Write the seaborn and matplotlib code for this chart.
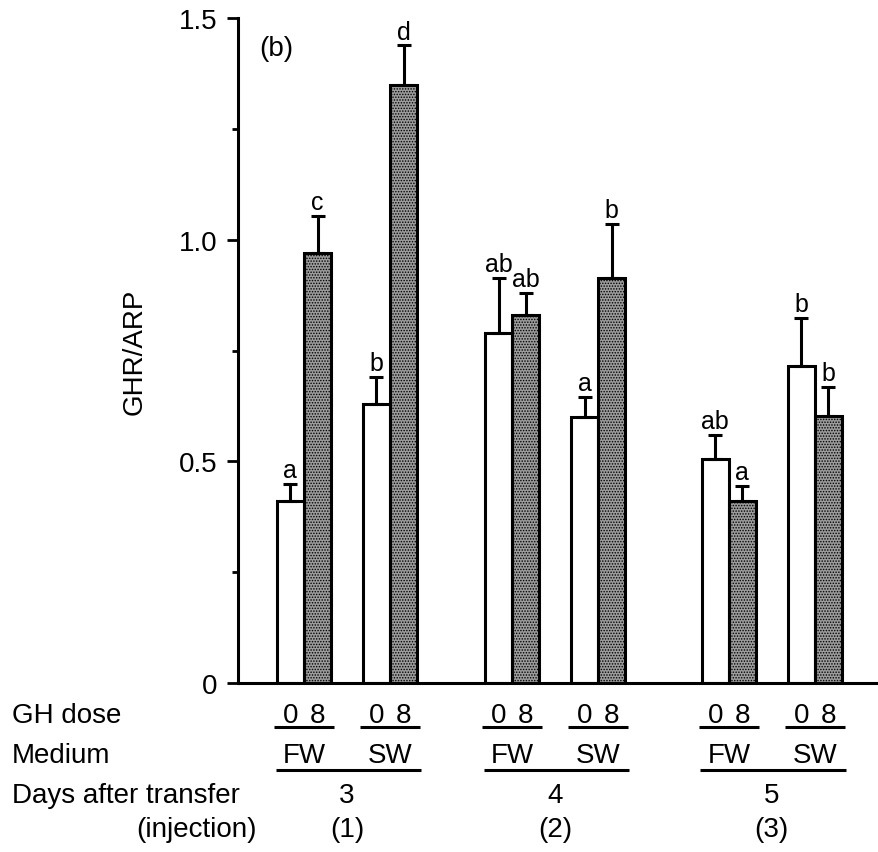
import numpy as np
import pandas as pd
import matplotlib
matplotlib.use("Agg")
import matplotlib.pyplot as plt
import matplotlib.transforms as mtrans
import seaborn as sns

# data
days = ["3", "3", "4", "4", "5", "5"]
injection = ["(1)", "(1)", "(2)", "(2)", "(3)", "(3)"]
medium = ["FW", "SW", "FW", "SW", "FW", "SW"]
dose_levels = ["0", "8"]
mean_dose0 = [0.41, 0.63, 0.79, 0.60, 0.506, 0.716]
mean_dose8 = [0.971, 1.35, 0.831, 0.914, 0.411, 0.603]
se_dose0 = [0.04, 0.06, 0.124, 0.045, 0.054, 0.108]
se_dose8 = [0.083, 0.088, 0.049, 0.122, 0.034, 0.065]
letters_dose0 = ["a", "b", "ab", "a", "ab", "b"]
letters_dose8 = ["c", "d", "ab", "b", "a", "b"]

# layout: x slot of each day/medium pair (uneven gaps as in the original)
pair_pos = [0, 1, 2.42, 3.42, 4.94, 5.94]

sns.set_style("ticks")
plt.rcParams["font.family"] = ["Liberation Sans", "DejaVu Sans"]
plt.rcParams["hatch.linewidth"] = 0.7
for k in ["text.color", "axes.labelcolor", "axes.edgecolor",
          "xtick.color", "ytick.color"]:
    plt.rcParams[k] = "black"

df = pd.DataFrame({
    "pos": pair_pos * 2,
    "dose": [dose_levels[0]] * 6 + [dose_levels[1]] * 6,
    "ghr": mean_dose0 + mean_dose8,
})

fig = plt.figure(figsize=(8.79, 8.53), dpi=100)
ax = fig.add_axes([238 / 879, 1 - 684 / 853, 641 / 879, 665 / 853])

sns.barplot(data=df, x="pos", y="ghr", hue="dose", hue_order=dose_levels,
            native_scale=True, width=0.63, errorbar=None, legend=False,
            palette={"0": "white", "8": "#9c9c9c"},
            edgecolor="black", linewidth=2.2, ax=ax)

# error bars (upper only) + significance letters
centers = {}
for lvl, cont, se, lets in zip(dose_levels, ax.containers,
                               [se_dose0, se_dose8],
                               [letters_dose0, letters_dose8]):
    bars = sorted(cont.patches, key=lambda p: p.get_x())
    xs = [b.get_x() + b.get_width() / 2 for b in bars]
    hs = [b.get_height() for b in bars]
    centers[lvl] = xs
    if lvl == "8":
        for b in bars:
            b.set_hatch("......")
    ax.errorbar(xs, hs, yerr=[np.zeros(len(se)), se], fmt="none",
                ecolor="black", elinewidth=2.2, capsize=4.7, capthick=2.2,
                zorder=1)
    for x, h, s, t in zip(xs, hs, se, lets):
        ax.annotate(t, (x, h + s), xytext=(0, 5), textcoords="offset points",
                    ha="center", va="baseline", fontsize=18)

ax.set_xlim(-0.767, 6.686)
ax.set_ylim(0, 1.5)
ax.set_yticks([0, 0.5, 1.0, 1.5])
ax.set_yticklabels(["0", "0.5", "1.0", "1.5"])
ax.set_yticks([0.25, 0.75, 1.25], minor=True)
ax.set_xticks([])
ax.tick_params(axis="y", which="major", length=8, width=2, labelsize=20, pad=7)
ax.tick_params(axis="y", which="minor", length=4.5, width=2)
sns.despine(ax=ax)
for sp in ["left", "bottom"]:
    ax.spines[sp].set_linewidth(2.2)
ax.set_xlabel("")
ax.set_ylabel("GHR/ARP", fontsize=20, va="center")
ax.yaxis.set_label_coords(-0.161, 0.5)

ax.text(0.06, 0.955, "(b)", transform=ax.transAxes, fontsize=20,
        ha="center", va="center")

# category table under the axis
tr = mtrans.blended_transform_factory(ax.transData, fig.transFigure)
def fy(px):
    return 1 - px / 853

fs = 20
fig.text(12 / 879, fy(723), "GH dose", fontsize=fs, va="baseline")
fig.text(12 / 879, fy(763), "Medium", fontsize=fs, va="baseline")
fig.text(12 / 879, fy(803), "Days after transfer", fontsize=fs, va="baseline")
fig.text(257 / 879, fy(837), "(injection)", fontsize=fs, va="baseline", ha="right")

for i, p in enumerate(pair_pos):
    ax.text(centers["0"][i], fy(723), "0", transform=tr, fontsize=fs,
            ha="center", va="baseline")
    ax.text(centers["8"][i], fy(723), "8", transform=tr, fontsize=fs,
            ha="center", va="baseline")
    ax.plot([p - 0.35, p + 0.35], [fy(728), fy(728)], transform=tr,
            color="black", lw=2.2, clip_on=False, solid_capstyle="butt")
    ax.text(p, fy(763), medium[i], transform=tr, fontsize=fs,
            ha="center", va="baseline")

for i in range(0, 6, 2):
    a, b = pair_pos[i], pair_pos[i + 1]
    ax.plot([a - 0.33, b + 0.36], [fy(771), fy(771)], transform=tr,
            color="black", lw=2.2, clip_on=False, solid_capstyle="butt")
    mid = (a + b) / 2
    ax.text(mid, fy(803), days[i], transform=tr, fontsize=fs,
            ha="center", va="baseline")
    ax.text(mid, fy(837), injection[i], transform=tr, fontsize=fs,
            ha="center", va="baseline")

fig.savefig("out.png", dpi=100)
